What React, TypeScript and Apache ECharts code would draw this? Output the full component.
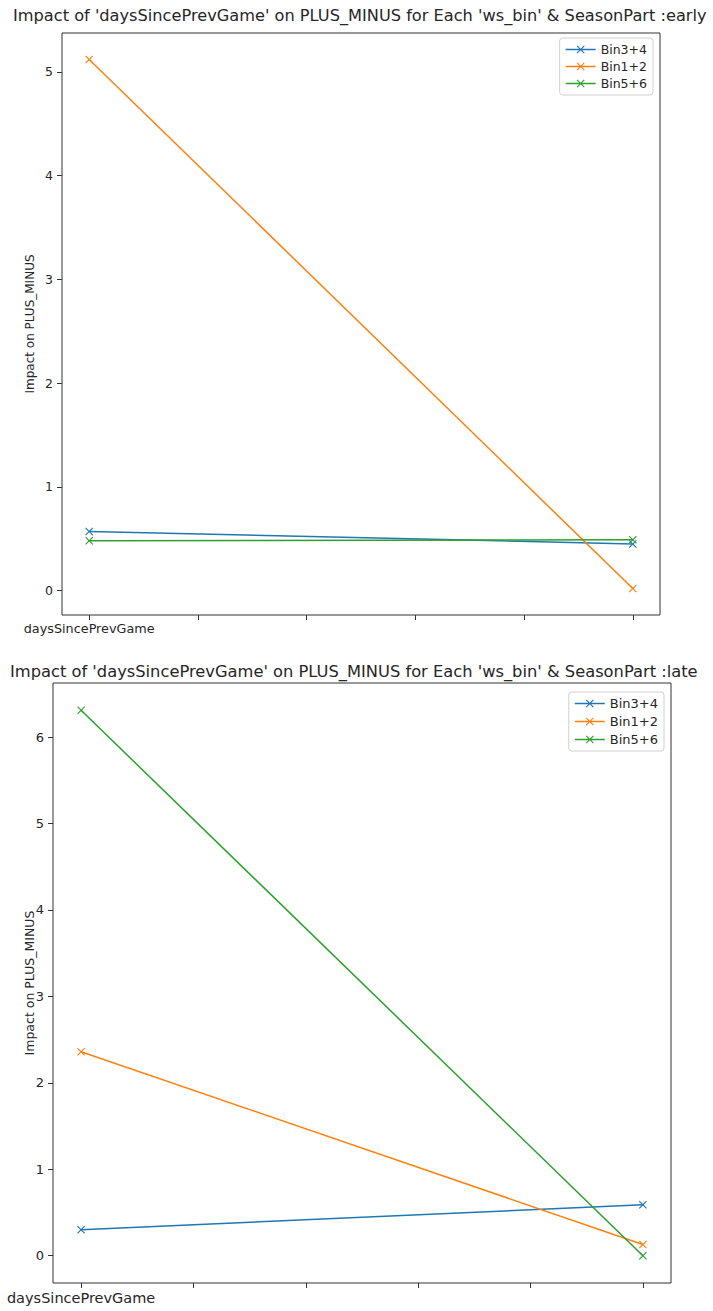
import React, { useEffect, useRef } from "react";
import * as echarts from "echarts";

const xPositions = [0, 1];
const xTickValues = [0, 0.2, 0.4, 0.6, 0.8, 1];
const xTickLabel = "daysSincePrevGame";

const seriesNames = ["Bin3+4", "Bin1+2", "Bin5+6"];
const seriesColors = ["#1f77b4", "#ff7f0e", "#2ca02c"];

const earlyBin34 = [0.57, 0.45];
const earlyBin12 = [5.12, 0.02];
const earlyBin56 = [0.48, 0.49];

const lateBin34 = [0.3, 0.59];
const lateBin12 = [2.36, 0.13];
const lateBin56 = [6.31, 0.0];

const earlyYTicks = [0, 1, 2, 3, 4, 5];
const lateYTicks = [0, 1, 2, 3, 4, 5, 6];

const titleEarly =
  "Impact of 'daysSincePrevGame' on PLUS_MINUS for Each 'ws_bin' & SeasonPart :early";
const titleLate =
  "Impact of 'daysSincePrevGame' on PLUS_MINUS for Each 'ws_bin' & SeasonPart :late";
const yName = "Impact on PLUS_MINUS";

const FONT = "DejaVu Sans";
const TEXT = "#262626";
const XMARK = "path://M0,1L1,0L5,4L9,0L10,1L6,5L10,9L9,10L5,6L1,10L0,9L4,5Z";
const LEGEND_ICON =
  "path://M0,4.3L30,4.3L30,5.7L0,5.7Z M11,1.8L11.8,1L19,8.2L18.2,9Z M18.2,1L19,1.8L11.8,9L11,8.2Z";

function rangeOf(groups: number[][]) {
  const all = groups.flat();
  const lo = Math.min(...all);
  const hi = Math.max(...all);
  const m = (hi - lo) * 0.05;
  return [lo - m, hi + m];
}

export default function App() {
  const ref = useRef<HTMLDivElement>(null);
  useEffect(() => {
    if (!ref.current) return;
    const chart = echarts.init(ref.current, undefined, { renderer: "svg" });
    const early = [earlyBin34, earlyBin12, earlyBin56];
    const late = [lateBin34, lateBin12, lateBin56];
    const er = rangeOf(early);
    const lr = rangeOf(late);

    const xAxisCfg = (gridIndex: number, fs: number) => ({
      type: "value",
      gridIndex,
      min: -0.05,
      max: 1.05,
      axisLine: { show: false, onZero: false },
      axisTick: {
        show: true,
        customValues: xTickValues,
        length: 5,
        lineStyle: { color: "#333" },
      },
      axisLabel: {
        customValues: [xTickValues[0]],
        formatter: () => xTickLabel,
        fontSize: fs,
        fontFamily: FONT,
        color: TEXT,
        margin: 7,
      },
      splitLine: { show: false },
    });
    const yAxisCfg = (gridIndex: number, r: number[], ticks: number[], fs: number, gap: number) => ({
      type: "value",
      gridIndex,
      min: r[0],
      max: r[1],
      name: yName,
      nameLocation: "middle",
      nameGap: gap,
      nameRotate: 90,
      nameMoveOverlap: false,
      nameTextStyle: { fontSize: fs - 0.5, fontFamily: FONT, color: TEXT },
      axisLine: { show: false, onZero: false },
      axisTick: {
        show: true,
        customValues: ticks,
        length: 5,
        lineStyle: { color: "#333" },
      },
      axisLabel: {
        customValues: ticks,
        fontSize: fs,
        fontFamily: FONT,
        color: TEXT,
        margin: 9,
      },
      splitLine: { show: false },
    });

    const mkSeries = (groups: number[][], idx: number) =>
      groups.map((vals, i) => ({
        type: "line",
        name: seriesNames[i],
        xAxisIndex: idx,
        yAxisIndex: idx,
        data: xPositions.map((x, j) => [x, vals[j]]),
        symbol: XMARK,
        symbolSize: 8,
        showSymbol: true,
        lineStyle: { width: 1.5, color: seriesColors[i] },
        itemStyle: { color: seriesColors[i] },
        emphasis: { disabled: true },
      }));

    const legendCfg = (top: number, right: number, fs: number, gap: number) => ({
      orient: "vertical",
      top,
      right,
      data: seriesNames,
      icon: LEGEND_ICON,
      itemWidth: 30,
      itemHeight: 8,
      itemGap: gap,
      padding: [5, 6, 5, 6],
      backgroundColor: "#fff",
      borderColor: "#d0d0d0",
      borderWidth: 1,
      borderRadius: 3,
      textStyle: { fontSize: fs, fontFamily: FONT, color: TEXT },
      selectedMode: false,
    });

    chart.setOption({
      animation: false,
      color: seriesColors,
      title: [
        {
          text: titleEarly,
          left: 8,
          top: 2,
          textStyle: { fontSize: 16.2, fontWeight: "normal", fontFamily: FONT, color: TEXT },
        },
        {
          text: titleLate,
          left: 5,
          top: 658,
          textStyle: { fontSize: 16.3, fontWeight: "normal", fontFamily: FONT, color: TEXT },
        },
      ],
      legend: [
        { ...legendCfg(38, 60, 12.5, 4) },
        { ...legendCfg(692, 49, 13, 5) },
      ],
      grid: [
        { left: 62, top: 33, width: 598, height: 582, show: true, borderColor: "#333", borderWidth: 1, backgroundColor: "transparent" },
        { left: 53, top: 683, width: 618, height: 600, show: true, borderColor: "#333", borderWidth: 1, backgroundColor: "transparent" },
      ],
      xAxis: [xAxisCfg(0, 12.8), xAxisCfg(1, 14.5)],
      yAxis: [yAxisCfg(0, er, earlyYTicks, 12.5, 26), yAxisCfg(1, lr, lateYTicks, 13, 17)],
      series: [...mkSeries(early, 0), ...mkSeries(late, 1)],
    });
    return () => chart.dispose();
  }, []);
  return (
    <div
      ref={ref}
      style={{ position: "absolute", left: 0, top: 0, width: 713, height: 1311, background: "#fff" }}
    />
  );
}
